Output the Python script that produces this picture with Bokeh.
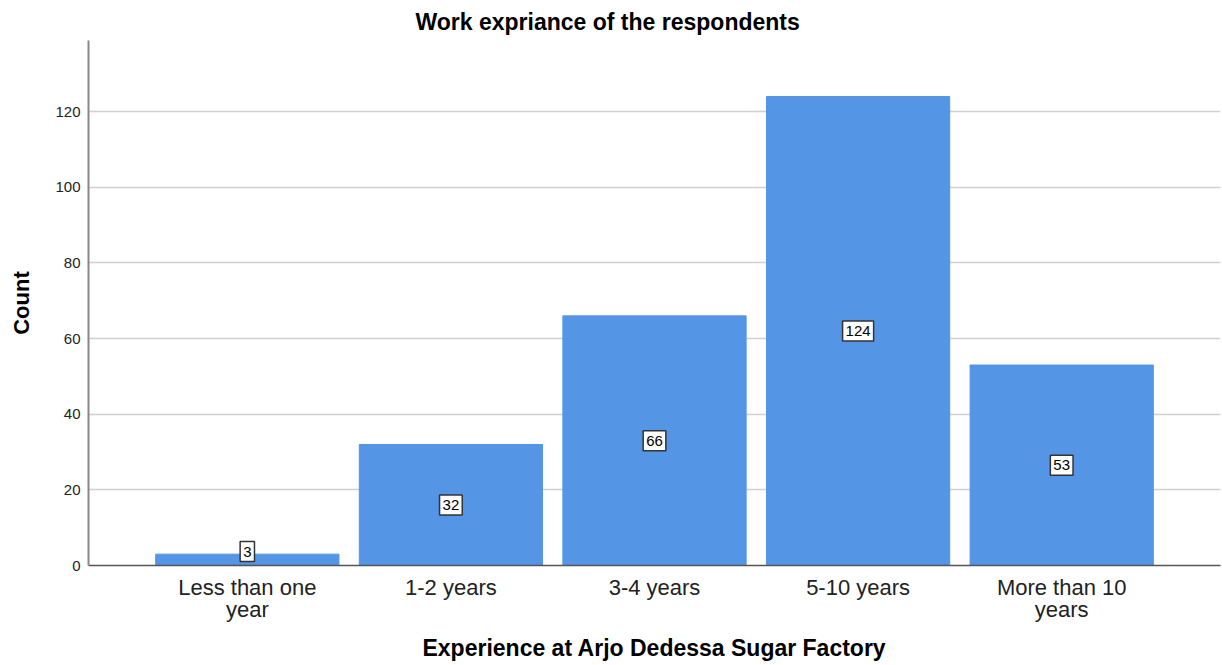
from bokeh.plotting import figure
from bokeh.models import ColumnDataSource, FactorRange, Range1d, FixedTicker
from bokeh.core.properties import value
from bokeh.embed import file_html
from bokeh.resources import INLINE

categories = ["Less than one\nyear", "1-2 years", "3-4 years", "5-10 years", "More than 10\nyears"]
counts = [3, 32, 66, 124, 53]
y_ticks = [0, 20, 40, 60, 80, 100, 120]

label_y = [max(c / 2, 3.7) for c in counts]
src = ColumnDataSource(dict(cat=categories, count=counts, ly=label_y, txt=[str(c) for c in counts]))

FONT = "Liberation Sans"

p = figure(width=1222, height=665, output_backend="svg", toolbar_location=None,
           x_range=FactorRange(factors=categories, range_padding=0.112, range_padding_units="percent"),
           y_range=Range1d(0, 138.8),
           title="Work expriance of the respondents")
p.min_border_left = 88
p.min_border_right = 2
p.min_border_top = 40
p.min_border_bottom = 100
p.outline_line_color = None
p.background_fill_color = "white"
p.border_fill_color = "white"

p.title.text_font = FONT
p.title.text_font_size = "23px"
p.title.text_font_style = "bold"
p.title.align = "left"
p.title.offset = 327
p.title.standoff = 11
p.title.text_color = "black"

p.vbar(x="cat", top="count", width=0.9, source=src, fill_color="#5595e5", line_color="#5595e5")

p.text(x="cat", y="ly", text="txt", source=src, text_align="center", text_baseline="middle",
       text_font=value(FONT), text_font_size="15px", text_color="black",
       background_fill_color="white", border_line_color="#333333", border_line_width=1.5,
       padding=dict(left=3, right=3, top=5, bottom=5))

p.xgrid.grid_line_color = None
p.ygrid.grid_line_color = "#d0d0d0"
p.ygrid.grid_line_width = 1.5
p.ygrid.ticker = FixedTicker(ticks=y_ticks)

p.yaxis.ticker = FixedTicker(ticks=y_ticks)
p.yaxis.major_tick_line_color = None
p.yaxis.minor_tick_line_color = None
p.yaxis.axis_line_color = "#888888"
p.yaxis.axis_line_width = 2
p.yaxis.major_label_text_font = FONT
p.yaxis.major_label_text_font_size = "15px"
p.yaxis.major_label_text_color = "#222222"
p.yaxis.major_label_standoff = 2
p.yaxis.axis_label = "Count"
p.yaxis.axis_label_text_font = FONT
p.yaxis.axis_label_text_font_size = "22px"
p.yaxis.axis_label_text_font_style = "bold"
p.yaxis.axis_label_text_color = "black"
p.yaxis.axis_label_standoff = 18

p.xaxis.major_tick_line_color = None
p.xaxis.minor_tick_line_color = None
p.xaxis.axis_line_color = "#555555"
p.xaxis.axis_line_width = 1.5
p.xaxis.major_label_text_font = FONT
p.xaxis.major_label_text_font_size = "22px"
p.xaxis.major_label_text_line_height = 0.9
p.xaxis.major_label_text_color = "#222222"
p.xaxis.major_label_standoff = 3
p.xaxis.axis_label = "Experience at Arjo Dedessa Sugar Factory"
p.xaxis.axis_label_text_font = FONT
p.xaxis.axis_label_text_font_size = "23px"
p.xaxis.axis_label_text_font_style = "bold"
p.xaxis.axis_label_text_color = "black"
p.xaxis.axis_label_standoff = 10

open("out.html", "w").write(file_html(p, INLINE))
